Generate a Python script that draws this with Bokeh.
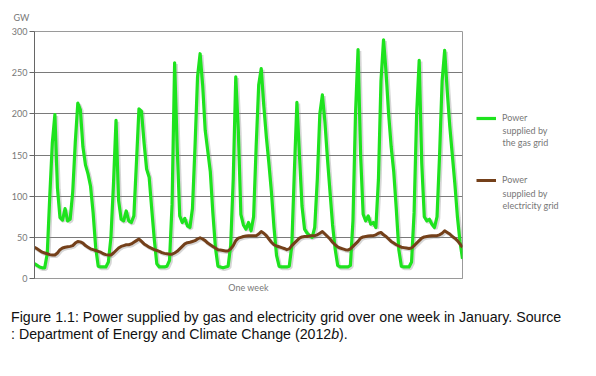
from bokeh.plotting import figure
from bokeh.models import Range1d, FixedTicker, Legend, LegendItem, Title, Label, Div, ColumnDataSource
from bokeh.transform import dodge
from bokeh.layouts import column, row
from bokeh.embed import file_html
from bokeh.resources import INLINE

# ---- data (hourly over one week) ----
hours = list(range(169))

gas = [
    18, 16, 14, 13, 13, 30, 100, 165, 199, 110, 74, 71, 85, 70, 72, 105, 165, 213, 205, 160, 138, 127, 112, 80, 38,
    15, 14, 14, 14, 20, 50, 115, 192, 95, 72, 70, 82, 70, 68, 76, 140, 206, 203, 165, 133, 123, 85, 48,
    18, 14, 14, 14, 15, 22, 90, 262, 160, 76, 68, 73, 64, 62, 85, 160, 245, 273, 235, 180, 155, 130, 80, 38,
    15, 14, 13, 14, 15, 40, 120, 245, 180, 78, 65, 60, 68, 58, 75, 160, 235, 255, 210, 172, 140, 105, 62, 28,
    15, 14, 14, 14, 15, 40, 130, 214, 150, 88, 60, 55, 52, 50, 62, 120, 200, 223, 190, 145, 105, 65, 36,
    16, 14, 14, 14, 14, 16, 70, 200, 278, 150, 78, 70, 76, 66, 68, 62, 120, 240, 290, 250, 200, 160, 130, 85, 35,
    15, 14, 14, 14, 20, 80, 200, 265, 140, 75, 70, 72, 66, 62, 75, 150, 240, 277, 228, 185, 150, 115, 75, 45, 24,
]

elec = [
    38, 36, 34, 32, 31, 30, 29, 28.5, 28.5, 31, 35, 37, 38, 38.5, 39, 40, 43, 45, 44.5, 43, 40, 38, 36, 35, 34,
    33, 32, 30, 29, 28.5, 28.5, 31, 34, 37, 39, 40, 41, 41, 42, 44, 46, 48, 45, 42, 40, 38, 36.5, 35, 34,
    33, 31.5, 30.5, 30, 29.5, 29.5, 31, 33, 36, 39, 42, 43.5, 44, 45, 46, 48, 49.5, 48, 46, 43, 41, 39, 37, 35,
    34.5, 34, 33.5, 33.5, 36, 40, 46, 49, 50, 51, 51.5, 52, 52, 52, 52, 54, 57, 55, 52, 48, 44, 41, 39.5, 38.5,
    37.5, 36.5, 35, 36, 40, 43, 46, 49, 50.5, 51, 51, 51.5, 52, 52, 53, 55, 57, 54, 51, 48, 44, 41, 38.5, 37,
    36, 35, 34.5, 36, 39, 42, 45, 49, 50.5, 51, 51.5, 52, 52, 53, 55, 56, 53, 51, 48, 45, 43, 41, 39.5, 38,
    37.5, 37, 36.5, 37, 40, 43, 46, 49, 50.5, 51, 51.5, 52, 52, 52, 53, 55, 58, 56, 54, 51, 49, 46, 42, 38,
]

y_ticks = [0, 50, 100, 150, 200, 250, 300]
series_first = ["Power", "Power"]
series_rest = [["supplied by", "the gas grid"], ["supplied by", "electricity grid"]]
x_label = "One week"
unit_label = "GW"
caption_html = ("Figure 1.1: Power supplied by gas and electricity grid over one week in January. Source<br>"
                ": Department of Energy and Climate Change (2012<i>b</i>).")

assert len(gas) == len(hours) and len(elec) == len(hours)

src = ColumnDataSource(dict(h=hours, gas=gas, elec=elec))

TXT = "#777777"
FONT = "Lato"
GREEN = "#1ee31e"
BROWN = "#74401a"

p = figure(width=470, height=300, x_range=Range1d(0, 168), y_range=Range1d(0, 300),
           output_backend="svg", toolbar_location=None,
           min_border_left=34, min_border_right=8, min_border_top=30, min_border_bottom=22)
p.background_fill_color = "white"
p.border_fill_color = "white"
p.outline_line_color = "#9a9a9a"
p.outline_line_width = 1

# y axis
p.yaxis.ticker = FixedTicker(ticks=y_ticks)
p.yaxis.major_label_text_font = FONT
p.yaxis.major_label_text_font_size = "9px"
p.yaxis.major_label_text_color = TXT
p.yaxis.axis_line_color = "#666666"
p.yaxis.major_tick_line_color = "#666666"
p.yaxis.major_tick_out = 5
p.yaxis.major_tick_in = 0
p.yaxis.minor_tick_line_color = None
p.yaxis.major_label_standoff = 2

# x axis
p.xaxis.ticker = FixedTicker(ticks=[])
p.xaxis.axis_label = x_label
p.xaxis.axis_label_text_font = FONT
p.xaxis.axis_label_text_font_size = "9px"
p.xaxis.axis_label_text_font_style = "normal"
p.xaxis.axis_label_text_color = TXT
p.xaxis.axis_label_standoff = 3
p.xaxis.axis_line_color = "#9a9a9a"
p.xaxis.major_tick_line_color = None
p.xaxis.minor_tick_line_color = None

# grids
p.ygrid.ticker = FixedTicker(ticks=y_ticks)
p.ygrid.grid_line_color = "#7a7a7a"
p.ygrid.grid_line_width = 1
p.xgrid.grid_line_color = None

# shadows
p.line(x=dodge("h", 0.5, range=p.x_range), y=dodge("gas", -1.6, range=p.y_range), source=src,
       line_color="#8a8a8a", line_alpha=0.35, line_width=4)
p.line(x=dodge("h", 0.5, range=p.x_range), y=dodge("elec", -1.6, range=p.y_range), source=src,
       line_color="#8a8a8a", line_alpha=0.35, line_width=3.5)

p.line(x="h", y="gas", source=src, line_color=GREEN, line_width=3.2, line_join="round")
p.line(x="h", y="elec", source=src, line_color=BROWN, line_width=3, line_join="round")

p.add_layout(Title(text=unit_label, align="left", offset=-21, standoff=18,
                   text_font=FONT, text_font_size="9px", text_color=TXT,
                   text_font_style="normal"), "above")

# ---- legend panel (series drawn off-view only to supply legend swatches) ----
q = figure(width=126, height=300, x_range=Range1d(-2, -1), y_range=Range1d(-2, -1),
           output_backend="svg", toolbar_location=None,
           min_border_left=0, min_border_right=0, min_border_top=0, min_border_bottom=0,
           x_axis_type=None, y_axis_type=None)
q.outline_line_color = None
q.grid.grid_line_color = None
q.background_fill_color = "white"
q.border_fill_color = "white"
g2 = q.line(x="h", y="gas", source=src, line_color=GREEN, line_width=3.2)
e2 = q.line(x="h", y="elec", source=src, line_color=BROWN, line_width=3)

legend = Legend(items=[LegendItem(label=series_first[0], renderers=[g2]),
                       LegendItem(label=series_first[1], renderers=[e2])],
                location=(6, 93), orientation="vertical", spacing=51,
                glyph_width=20, glyph_height=10, label_standoff=6,
                label_text_font=FONT, label_text_font_size="9px", label_text_color=TXT,
                border_line_alpha=0, background_fill_alpha=0, padding=0, margin=0)
q.add_layout(legend)

for lines, ys in zip(series_rest, [[148, 136], [85, 73]]):
    for txt, yy in zip(lines, ys):
        q.add_layout(Label(x=32, y=yy, x_units="screen", y_units="screen", text=txt,
                           text_font=FONT, text_font_size="9px", text_color=TXT,
                           text_baseline="middle"))

cap = Div(text=caption_html, width=596, height=62,
          styles={"font-family": "'Liberation Sans', Arial, sans-serif", "font-size": "14.2px",
                  "line-height": "17px", "color": "#111", "padding-left": "6px",
                  "padding-top": "4px", "white-space": "nowrap"})

layout = column(row(p, q, spacing=0), cap, spacing=0)
open("out.html", "w").write(file_html(layout, INLINE))
